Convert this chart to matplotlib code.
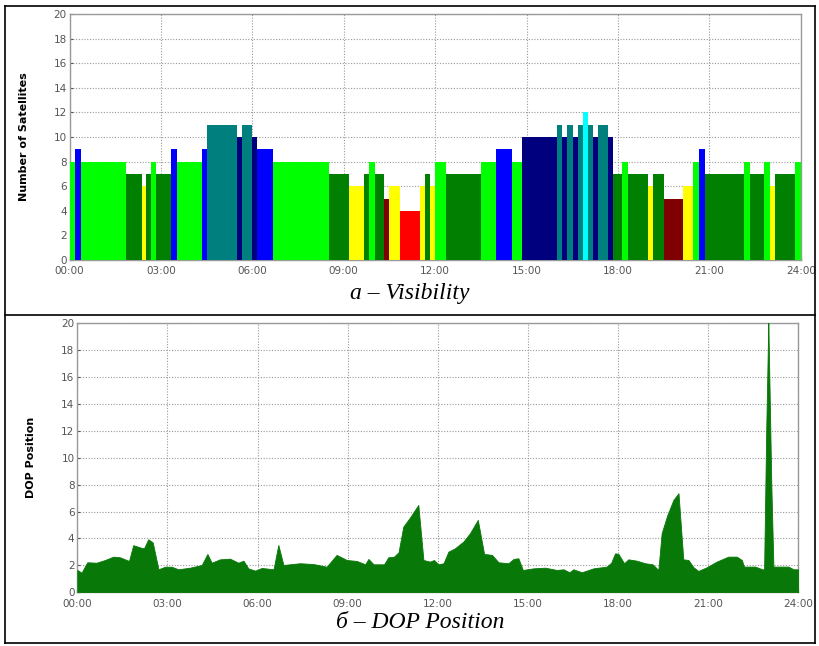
import numpy as np
import matplotlib
matplotlib.use('Agg')
import matplotlib.pyplot as plt
from matplotlib.lines import Line2D

# visibility: start hour of each block and number of satellites
vis_start = [0, 0.18, 0.37, 1.85, 2.37, 2.51, 2.66, 2.84, 3.33, 3.52,
             4.34, 4.52, 5.51, 5.67, 6.0, 6.16, 6.69, 8.52, 9.17, 9.67,
             9.84, 10.03, 10.33, 10.49, 10.84, 11.49, 11.67, 11.84, 12.0, 12.35,
             13.5, 14.0, 14.51, 14.84, 15.99, 16.17, 16.34, 16.51, 16.68, 16.84,
             17.01, 17.17, 17.34, 17.68, 17.85, 18.14, 18.32, 19.0, 19.16, 19.51,
             20.14, 20.47, 20.66, 20.86, 22.15, 22.33, 22.80, 22.99, 23.15, 23.81]
vis_count = [8, 9, 8, 7, 6, 7, 8, 7, 9, 8,
             9, 11, 10, 11, 10, 9, 8, 7, 6, 7,
             8, 7, 5, 6, 4, 6, 7, 6, 8, 7,
             8, 9, 8, 10, 11, 10, 11, 10, 11, 12,
             11, 10, 11, 10, 7, 8, 7, 6, 7, 5,
             6, 8, 9, 7, 8, 7, 8, 6, 7, 8]

# DOP position profile
dop_hour = [0, 0.14, 0.33, 0.64, 0.92, 1.2, 1.42, 1.72, 1.86, 2.14, 2.22, 2.36, 2.51,
            2.70, 2.92, 3.14, 3.36, 3.75, 4.14, 4.33, 4.47, 4.75, 5.08, 5.36, 5.53,
            5.69, 5.92, 6.14, 6.53, 6.69, 6.86, 7.41, 7.86, 8.3, 8.63, 8.97, 9.3,
            9.58, 9.69, 9.86, 10.21, 10.35, 10.54, 10.69, 10.85, 11.08, 11.35, 11.52,
            11.74, 11.87, 12.02, 12.19, 12.35, 12.57, 12.85, 13.07, 13.33, 13.54,
            13.8, 14.02, 14.35, 14.52, 14.68, 14.83, 15.18, 15.57, 15.96, 16.18,
            16.38, 16.51, 16.79, 17.18, 17.62, 17.77, 17.90, 18.01, 18.2, 18.34,
            18.62, 18.9, 19.15, 19.34, 19.45, 19.64, 19.84, 20.01, 20.17, 20.34,
            20.51, 20.67, 20.95, 21.28, 21.67, 21.95, 22.12, 22.19, 22.56, 22.8,
            22.86, 22.93, 22.99, 23.0, 23.01, 23.1, 23.17, 23.67, 23.84, 24.0]
dop_value = [1.66, 1.46, 2.23, 2.2, 2.4, 2.65, 2.6, 2.33, 3.5, 3.3, 3.27, 3.94, 3.7,
             1.71, 1.9, 1.9, 1.71, 1.83, 2.03, 2.85, 2.2, 2.45, 2.5, 2.2, 2.35,
             1.78, 1.61, 1.81, 1.71, 3.52, 2.03, 2.16, 2.1, 1.9, 2.78, 2.4, 2.33,
             2.08, 2.48, 2.08, 2.08, 2.6, 2.65, 2.97, 4.88, 5.58, 6.49, 2.4,
             2.28, 2.4, 2.08, 2.16, 3.02, 3.27, 3.77, 4.39, 5.38, 2.85,
             2.78, 2.23, 2.16, 2.48, 2.53, 1.66, 1.78, 1.83, 1.66, 1.71,
             1.49, 1.71, 1.49, 1.78, 1.91, 2.2, 2.9, 2.85, 2.16, 2.45,
             2.35, 2.16, 2.08, 1.66, 4.39, 5.75, 6.86, 7.36, 2.45, 2.4,
             1.86, 1.59, 1.86, 2.28, 2.65, 2.65, 2.4, 1.91, 1.91, 1.71,
             1.7, 12.0, 18.9, 21.0, 18.9, 8.0, 1.91, 1.91, 1.71, 1.71]

xtick_labels = ['00:00', '03:00', '06:00', '09:00', '12:00', '15:00', '18:00', '21:00', '24:00']

count_colors = {4: '#ff0000', 5: '#7f0000', 6: '#ffff00', 7: '#007f00', 8: '#00ff00',
                9: '#0000ff', 10: '#00007f', 11: '#007f7f', 12: '#00ffff'}


def style_axes(ax, ylabel):
    ax.set_xlim(0, 24)
    ax.set_ylim(0, 20)
    ax.set_xticks(np.arange(0, 25, 3))
    ax.set_xticklabels(xtick_labels)
    ax.set_yticks(np.arange(0, 21, 2))
    ax.tick_params(labelsize=7.5, colors='#555555', length=2, direction='in', pad=2)
    ax.tick_params(axis='x', pad=4.5)
    ax.grid(True, linestyle=(0, (1, 1.5)), color='#999999', linewidth=0.8)
    ax.set_axisbelow(True)
    for s in ax.spines.values():
        s.set_color('#999999')
        s.set_linewidth(1.0)
    ax.set_ylabel(ylabel, fontsize=8, fontweight='bold', labelpad=18)


fig = plt.figure(figsize=(8.2, 6.46), dpi=100)

ax1 = fig.add_axes([0.0848, 0.5975, 0.8917, 0.3808])
widths = np.diff(vis_start + [24])
ax1.bar(vis_start, vis_count, width=widths, align='edge',
        color=[count_colors[c] for c in vis_count], linewidth=0, zorder=3)
style_axes(ax1, 'Number of Satellites')

ax2 = fig.add_axes([0.0943, 0.0831, 0.8793, 0.4169])
ax2.fill_between(dop_hour, dop_value, 0, color='#087808', linewidth=0.6, zorder=3)
style_axes(ax2, 'DOP Position')

# table borders around the two panels
for y in [0.991, 0.512, 0.004]:
    fig.add_artist(Line2D([0.006, 0.994], [y, y], color='black', linewidth=1.2))
for x in [0.006, 0.994]:
    fig.add_artist(Line2D([x, x], [0.004, 0.991], color='black', linewidth=1.2))

fig.text(0.5, 0.546, 'a – Visibility', ha='center', va='center',
         family='Liberation Serif', style='italic', fontsize=17)
fig.text(0.512, 0.037, 'б – DOP Position', ha='center', va='center',
         family='Liberation Serif', style='italic', fontsize=17)

fig.savefig('out.png', dpi=100)
